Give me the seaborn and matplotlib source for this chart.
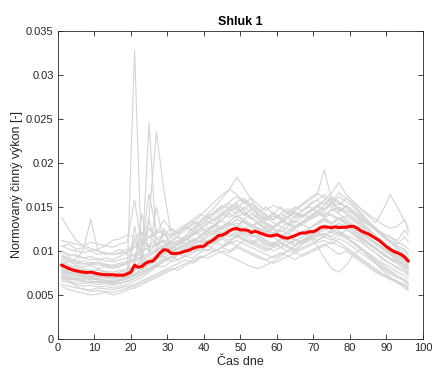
import numpy as np
import pandas as pd
import matplotlib
matplotlib.use("Agg")
import matplotlib.pyplot as plt
import seaborn as sns

# ---- data (values in 1e-3 units) ----
cas = np.arange(1, 97)
cas_g = np.r_[np.arange(1, 96, 2), 96]

prumer = [8.4, 8.2, 8.0, 7.85, 7.75, 7.65, 7.6, 7.55, 7.6, 7.5, 7.4, 7.35, 7.3, 7.3, 7.3, 7.25,
          7.25, 7.25, 7.4, 7.6, 8.4, 8.15, 8.25, 8.6, 8.8, 8.85, 9.3, 9.8, 10.15, 10.1, 9.75, 9.7,
          9.75, 9.85, 10.0, 10.1, 10.3, 10.45, 10.5, 10.55, 10.9, 11.1, 11.4, 11.75, 11.8, 12.0, 12.3, 12.5,
          12.55, 12.4, 12.4, 12.35, 12.1, 12.25, 12.1, 11.95, 11.8, 11.7, 11.75, 11.85, 11.65, 11.5, 11.45, 11.6,
          11.75, 11.95, 12.05, 12.05, 12.2, 12.2, 12.4, 12.7, 12.75, 12.7, 12.65, 12.75, 12.65, 12.7, 12.7, 12.8,
          12.8, 12.6, 12.3, 12.1, 11.95, 11.7, 11.45, 11.2, 10.85, 10.5, 10.2, 9.95, 9.8, 9.6, 9.3, 8.85]

den01 = [13.8, 12.5, 11.2, 10.6, 10.3, 10.0, 9.8, 9.6, 9.7, 9.9, 10.4, 10.8, 11.5, 12.0,
         12.3, 11.8, 12.5, 13.0, 13.6, 14.2, 13.8, 14.5, 15.2, 14.8, 15.6, 16.0, 15.2, 14.6,
         14.0, 13.5, 14.2, 13.8, 13.2, 14.0, 14.5, 15.0, 14.6, 15.3, 14.8, 14.2, 13.6, 13.0,
         12.2, 11.5, 10.8, 10.4, 9.8, 9.5, 9.2]
den02 = [7.0, 6.8, 6.7, 6.5, 6.6, 6.4, 6.5, 6.3, 6.6, 7.5, 32.8, 8.4, 7.8, 8.2,
         8.2, 8.8, 9.0, 9.4, 9.2, 9.8, 10.2, 10.0, 10.5, 11.0, 10.6, 11.2, 11.0, 10.6,
         10.2, 10.8, 10.4, 10.0, 10.6, 11.0, 11.4, 11.8, 12.0, 11.6, 12.2, 11.8, 11.4, 11.0,
         10.4, 9.8, 9.2, 8.6, 8.2, 7.8, 7.4]
den03 = [8.0, 7.6, 7.4, 7.2, 7.0, 7.1, 6.9, 6.8, 7.0, 7.2, 11.5, 9.0, 24.6, 10.5,
         12.0, 10.8, 11.2, 10.6, 11.0, 11.6, 12.0, 12.4, 12.0, 12.8, 13.2, 12.6, 13.0, 12.5,
         12.2, 11.8, 12.4, 12.0, 11.6, 12.2, 12.6, 13.0, 13.4, 13.0, 13.6, 14.0, 13.4, 12.8,
         12.0, 11.4, 10.8, 10.0, 9.6, 9.2, 8.8]
den04 = [9.0, 8.8, 8.6, 8.5, 8.7, 8.4, 8.3, 8.2, 8.4, 8.6, 8.8, 10.5, 14.0, 23.5,
         17.0, 12.0, 11.5, 10.8, 11.2, 11.6, 11.0, 11.8, 12.2, 11.6, 12.4, 12.0, 11.6, 11.8,
         11.2, 10.8, 11.4, 11.0, 10.6, 11.2, 11.6, 12.2, 12.6, 12.0, 12.8, 12.4, 12.0, 11.4,
         10.8, 10.2, 9.6, 9.0, 8.6, 8.2, 7.9]
den05 = [10.5, 10.8, 10.2, 10.4, 10.0, 10.2, 10.6, 10.4, 10.8, 11.0, 15.8, 10.6, 16.5, 12.0,
         13.5, 12.4, 12.0, 12.8, 12.2, 13.0, 13.4, 13.0, 14.0, 14.6, 15.2, 14.0, 14.8, 14.2,
         13.6, 14.4, 13.8, 13.2, 14.0, 14.6, 15.0, 14.4, 15.2, 16.0, 15.4, 15.0, 14.2, 13.6,
         13.0, 12.6, 12.0, 11.6, 11.2, 12.4, 11.8]
den06 = [9.5, 9.2, 9.0, 10.2, 13.6, 10.0, 9.6, 9.8, 10.2, 9.6, 9.4, 10.0, 10.4, 10.8,
         11.0, 10.6, 10.2, 10.8, 11.4, 11.0, 11.6, 12.0, 12.6, 13.2, 12.8, 13.4, 12.6, 12.2,
         12.8, 12.4, 11.8, 12.2, 12.6, 13.0, 12.6, 13.2, 13.8, 14.2, 13.6, 13.0, 12.4, 11.8,
         11.0, 10.4, 9.8, 9.2, 8.8, 8.4, 8.0]
den07 = [6.0, 5.6, 5.4, 5.2, 5.0, 5.1, 5.3, 5.0, 5.2, 5.6, 5.8, 6.2, 6.6, 7.0,
         7.4, 7.8, 8.2, 8.6, 9.0, 9.4, 9.2, 9.6, 10.0, 9.8, 10.4, 10.0, 9.6, 9.2,
         9.0, 9.4, 9.8, 9.4, 9.0, 9.6, 10.0, 10.4, 10.8, 10.2, 9.6, 10.0, 9.4, 8.8,
         8.2, 7.6, 7.2, 6.8, 6.4, 6.0, 5.6]
den08 = [7.2, 6.6, 6.0, 5.6, 5.4, 5.5, 5.4, 5.3, 5.5, 5.8, 6.0, 6.4, 6.8, 7.2,
         7.6, 8.0, 7.8, 8.4, 8.8, 9.2, 9.6, 10.0, 10.4, 10.8, 11.2, 10.8, 10.4, 10.0,
         9.6, 9.2, 9.6, 10.0, 9.8, 10.2, 10.6, 11.0, 11.2, 10.8, 11.4, 11.0, 10.4, 9.8,
         9.2, 8.6, 8.0, 7.4, 7.0, 6.6, 6.2]
den09 = [8.6, 8.2, 7.8, 7.4, 7.2, 7.0, 7.2, 7.0, 7.2, 7.4, 7.8, 8.2, 8.8, 9.4,
         10.0, 10.4, 10.8, 11.4, 12.0, 12.6, 13.2, 13.8, 14.4, 15.0, 15.4, 14.6, 13.8, 13.0,
         12.4, 11.6, 11.0, 10.4, 10.0, 10.8, 11.6, 10.6, 9.2, 8.0, 7.6, 8.4, 9.6, 10.2,
         9.8, 9.2, 8.6, 8.2, 7.6, 7.2, 6.8]
den10 = [7.6, 7.4, 7.2, 7.0, 6.8, 6.9, 6.7, 6.6, 6.8, 7.0, 7.4, 8.0, 8.6, 9.2,
         9.8, 10.4, 11.0, 11.8, 12.6, 13.4, 14.2, 15.0, 16.0, 17.0, 18.4, 17.2, 15.8, 14.6,
         13.8, 13.2, 12.8, 12.4, 12.8, 13.2, 13.6, 14.0, 14.4, 14.0, 13.6, 13.2, 12.6, 12.0,
         11.4, 10.8, 10.2, 9.6, 9.0, 8.6, 8.2]
den11 = [8.2, 8.0, 7.8, 7.6, 7.4, 7.5, 7.3, 7.2, 7.4, 7.6, 8.0, 8.4, 8.8, 9.2,
         9.6, 10.0, 10.4, 10.8, 11.2, 11.6, 12.0, 12.4, 12.8, 13.4, 14.0, 13.6, 13.0, 12.6,
         12.2, 12.8, 13.4, 14.0, 14.6, 15.2, 15.8, 16.4, 19.2, 15.8, 14.6, 15.0, 14.2, 13.4,
         12.6, 11.8, 11.0, 10.4, 9.8, 9.4, 9.0]
den12 = [9.4, 9.0, 8.8, 8.6, 8.4, 8.6, 8.4, 8.2, 8.4, 8.6, 8.8, 9.2, 9.6, 10.0,
         10.4, 10.8, 11.0, 11.4, 11.8, 12.2, 12.6, 13.0, 13.4, 13.0, 13.6, 13.2, 12.8, 12.4,
         12.0, 12.6, 13.2, 13.8, 14.4, 14.0, 14.6, 15.2, 15.8, 16.6, 17.8, 16.4, 15.6, 14.8,
         14.0, 13.2, 14.6, 16.4, 15.0, 13.4, 12.6]
den13 = [7.4, 7.0, 6.8, 6.6, 6.4, 6.5, 6.3, 6.2, 6.4, 6.6, 6.9, 7.3, 7.8, 8.3,
         8.8, 9.2, 9.6, 10.0, 10.4, 10.8, 11.2, 11.6, 12.0, 12.4, 12.8, 12.4, 12.0, 11.6,
         11.2, 10.8, 11.2, 11.6, 11.2, 11.6, 12.0, 12.4, 12.8, 12.4, 12.0, 11.6, 11.0, 10.2,
         9.4, 8.6, 7.8, 7.0, 6.4, 5.8, 5.5]
den14 = [11.2, 11.0, 10.8, 10.6, 11.0, 10.8, 10.6, 11.2, 11.4, 11.8, 11.6, 12.0, 11.6, 12.4,
         12.0, 11.6, 12.2, 12.6, 13.0, 13.4, 14.0, 14.4, 15.0, 15.6, 16.2, 15.4, 16.0, 15.2,
         14.6, 15.2, 14.8, 14.2, 14.8, 15.4, 16.0, 16.6, 16.0, 15.4, 16.2, 15.6, 15.0, 14.2,
         13.4, 12.6, 12.0, 11.6, 11.0, 10.6, 10.2]
den15 = [8.8, 8.4, 8.2, 8.0, 7.8, 7.9, 7.7, 7.6, 7.8, 8.0, 8.2, 8.6, 9.0, 9.6,
         10.2, 9.8, 10.2, 10.6, 10.2, 10.8, 11.2, 11.0, 11.6, 11.2, 11.8, 11.4, 11.0, 11.4,
         10.8, 10.4, 10.8, 11.2, 10.8, 11.2, 11.6, 11.2, 11.8, 12.2, 11.8, 12.4, 12.0, 11.4,
         10.8, 10.2, 9.6, 9.2, 8.8, 8.4, 8.0]
den16 = [6.6, 6.4, 6.2, 6.0, 6.1, 5.9, 6.0, 5.8, 6.0, 6.2, 6.6, 7.0, 7.6, 8.2,
         8.8, 9.4, 9.0, 9.6, 10.2, 10.0, 10.6, 11.0, 10.6, 11.2, 11.6, 11.2, 10.8, 10.4,
         10.0, 10.4, 10.8, 10.4, 10.0, 10.4, 10.8, 11.2, 11.6, 11.2, 11.8, 11.4, 10.8, 10.2,
         9.6, 9.0, 8.4, 7.8, 7.2, 6.8, 6.4]
den17 = [10.0, 9.6, 9.4, 9.2, 9.0, 9.1, 8.9, 8.8, 9.0, 9.2, 9.6, 10.0, 10.4, 10.8,
         11.2, 11.0, 10.6, 11.2, 11.8, 12.4, 13.0, 13.6, 14.2, 13.8, 14.4, 15.0, 14.4, 13.8,
         13.2, 12.8, 13.4, 13.0, 12.6, 13.2, 13.8, 14.4, 14.0, 14.6, 15.0, 14.6, 14.2, 13.6,
         13.0, 12.4, 11.8, 11.2, 10.6, 10.2, 9.6]
den18 = [7.8, 7.5, 7.3, 7.1, 7.0, 7.2, 7.0, 6.9, 7.1, 7.3, 8.5, 14.2, 10.0, 15.0,
         11.0, 10.2, 9.8, 10.4, 10.8, 11.2, 11.8, 12.2, 12.6, 13.2, 12.8, 13.6, 14.2, 13.6,
         13.0, 12.6, 12.2, 12.8, 13.4, 13.0, 13.6, 14.2, 14.8, 15.4, 14.8, 14.4, 13.8, 13.2,
         12.4, 11.6, 10.8, 10.0, 9.4, 9.0, 8.6]
den19 = [9.2, 9.0, 8.8, 8.9, 8.6, 8.8, 8.5, 8.4, 8.6, 8.8, 9.0, 9.4, 9.8, 10.2,
         10.6, 10.2, 10.8, 11.4, 11.0, 11.6, 12.2, 12.8, 12.4, 13.0, 13.6, 13.2, 12.8, 13.4,
         13.0, 12.6, 13.2, 13.8, 14.4, 14.0, 14.6, 15.2, 14.8, 15.6, 15.2, 16.0, 15.4, 14.8,
         14.2, 13.6, 13.0, 12.6, 12.8, 13.6, 12.2]
den20 = [6.2, 6.0, 5.8, 5.7, 5.6, 5.8, 5.7, 5.6, 5.8, 6.0, 6.2, 6.6, 7.0, 7.4,
         7.8, 8.2, 8.6, 9.0, 8.6, 9.2, 9.6, 10.0, 10.4, 10.0, 10.6, 10.2, 9.8, 9.4,
         9.0, 8.6, 9.0, 9.4, 9.8, 9.4, 9.8, 10.2, 10.6, 11.0, 10.6, 10.2, 9.6, 9.0,
         8.4, 7.8, 7.2, 6.8, 6.4, 6.2, 6.0]
den21 = [8.0, 7.8, 7.6, 7.4, 7.2, 7.3, 7.1, 7.0, 7.2, 7.0, 7.4, 7.8, 8.4, 9.0,
         9.6, 10.2, 10.8, 11.4, 11.0, 11.8, 12.4, 13.0, 13.6, 14.2, 13.8, 14.4, 13.8, 13.2,
         12.6, 12.0, 11.6, 12.0, 12.4, 12.0, 12.6, 13.2, 13.6, 13.2, 13.8, 13.4, 12.8, 12.2,
         11.4, 10.8, 10.2, 9.6, 9.0, 8.4, 8.0]
den22 = [7.0, 6.8, 6.9, 6.6, 6.4, 6.6, 6.5, 6.4, 6.6, 6.8, 7.2, 7.6, 8.0, 8.6,
         9.0, 9.4, 9.8, 10.2, 10.6, 10.2, 10.6, 10.2, 9.8, 9.4, 9.0, 8.6, 8.2, 8.0,
         8.4, 8.8, 9.4, 10.0, 10.6, 11.2, 11.8, 12.4, 13.0, 12.6, 13.2, 12.8, 12.2, 11.6,
         11.0, 10.4, 9.8, 9.2, 8.6, 8.0, 7.6]
den23 = [8.4, 8.2, 8.0, 7.8, 7.6, 7.8, 7.6, 7.4, 7.6, 7.8, 8.2, 8.8, 9.4, 10.0,
         10.6, 11.2, 11.8, 12.4, 13.2, 14.0, 14.8, 15.6, 16.4, 17.0, 16.4, 15.6, 14.8, 14.0,
         13.4, 14.0, 13.6, 13.0, 13.6, 14.2, 13.8, 14.4, 13.8, 13.2, 13.8, 13.2, 12.6, 12.0,
         11.4, 10.8, 10.4, 9.8, 9.4, 9.0, 8.6]
den24 = [7.6, 7.2, 7.0, 6.8, 6.9, 6.7, 6.6, 6.5, 6.7, 6.9, 7.2, 7.6, 8.0, 8.4,
         8.8, 9.2, 9.6, 9.4, 9.8, 10.4, 10.8, 11.2, 11.6, 12.0, 11.6, 12.2, 11.8, 11.4,
         11.0, 10.6, 11.0, 10.6, 10.2, 10.8, 11.4, 12.0, 12.4, 12.8, 12.2, 11.6, 11.0, 10.4,
         9.6, 8.8, 8.2, 7.6, 7.0, 6.6, 6.2]
den25 = [7.2, 7.0, 6.8, 6.9, 6.7, 6.8, 6.6, 6.5, 6.8, 7.0, 12.8, 8.6, 13.6, 9.8,
         12.6, 10.4, 11.0, 11.6, 12.2, 11.8, 12.4, 13.0, 12.6, 13.4, 14.0, 13.4, 12.8, 13.2,
         12.6, 12.0, 12.6, 13.2, 12.8, 13.4, 14.0, 14.6, 14.0, 14.8, 14.2, 13.6, 13.0, 12.4,
         11.6, 11.0, 10.4, 9.8, 9.2, 8.8, 8.4]
den26 = [9.8, 9.4, 9.6, 9.2, 9.4, 9.0, 9.2, 9.0, 9.4, 9.8, 11.0, 10.2, 12.6, 11.4,
         11.8, 12.6, 12.0, 12.8, 13.4, 12.8, 13.6, 14.2, 14.8, 15.4, 14.6, 15.8, 15.0, 14.4,
         15.0, 14.2, 13.6, 14.4, 15.0, 14.6, 15.4, 15.8, 15.2, 16.2, 15.6, 15.0, 14.4, 13.8,
         13.0, 12.4, 11.8, 11.2, 10.8, 11.6, 11.0]
den27 = [7.8, 7.4, 7.6, 7.2, 7.0, 7.4, 7.1, 6.9, 7.2, 7.0, 7.8, 9.6, 8.4, 9.0,
         9.4, 8.8, 9.6, 10.2, 9.8, 10.4, 10.0, 10.8, 11.4, 10.8, 12.0, 11.4, 10.8, 11.2,
         10.6, 11.0, 10.4, 10.8, 11.4, 11.0, 11.6, 12.2, 11.6, 12.4, 13.0, 12.6, 11.8, 11.2,
         10.4, 9.8, 9.0, 8.6, 8.0, 7.6, 7.2]
den28 = [8.6, 8.8, 8.4, 8.2, 8.4, 8.0, 8.2, 8.0, 8.2, 8.6, 9.2, 12.2, 9.8, 11.0,
         10.4, 11.0, 11.6, 11.2, 12.0, 12.6, 12.2, 12.8, 13.6, 14.4, 15.0, 14.2, 13.6, 14.2,
         13.6, 14.2, 15.0, 14.4, 13.8, 14.6, 15.2, 15.8, 16.4, 15.6, 16.6, 16.0, 15.2, 14.4,
         13.4, 12.6, 11.8, 11.0, 10.2, 9.6, 9.0]
den29 = [6.8, 6.6, 6.4, 6.3, 6.4, 6.2, 6.3, 6.1, 6.3, 6.5, 6.9, 7.4, 8.0, 8.6,
         9.2, 9.8, 10.4, 10.0, 10.6, 11.2, 10.8, 11.4, 12.0, 11.6, 12.2, 11.8, 11.2, 10.8,
         10.4, 10.0, 10.4, 10.8, 11.2, 10.8, 11.2, 11.6, 12.0, 11.4, 11.0, 10.4, 9.8, 9.2,
         8.6, 8.0, 7.4, 7.0, 6.6, 6.2, 5.8]
den30 = [10.6, 10.2, 10.0, 9.8, 10.0, 9.6, 9.8, 9.6, 9.8, 10.2, 10.6, 11.0, 10.6, 11.4,
         11.0, 11.6, 12.2, 12.8, 12.4, 13.2, 13.8, 13.4, 14.2, 14.8, 14.2, 14.8, 15.4, 14.8,
         14.2, 13.6, 14.2, 14.8, 14.2, 13.8, 14.4, 15.0, 15.6, 15.0, 14.4, 15.2, 14.6, 14.0,
         13.2, 12.4, 11.6, 11.0, 10.4, 10.0, 9.6]

dny = [den01, den02, den03, den04, den05, den06, den07, den08, den09, den10,
       den11, den12, den13, den14, den15, den16, den17, den18, den19, den20,
       den21, den22, den23, den24, den25, den26, den27, den28, den29, den30]

xticks = [0, 10, 20, 30, 40, 50, 60, 70, 80, 90, 100]
yticks = [0, 0.005, 0.01, 0.015, 0.02, 0.025, 0.03, 0.035]
ytick_labels = ['0', '0.005', '0.01', '0.015', '0.02', '0.025', '0.03', '0.035']

# ---- build tables ----
df = pd.DataFrame({
    'cas': np.tile(cas_g, len(dny)),
    'vykon': np.concatenate([np.asarray(d) for d in dny]) * 1e-3,
    'den': np.repeat(np.arange(len(dny)), len(cas_g)),
})
df_mean = pd.DataFrame({'cas': cas, 'vykon': np.asarray(prumer) * 1e-3})

# ---- plot ----
sns.set_style('ticks')
plt.rcParams['font.family'] = ['Liberation Sans', 'DejaVu Sans']

fig = plt.figure(figsize=(4.32, 3.74), dpi=100)
ax = fig.add_axes([0.134, 0.0936, 0.845, 0.8235])

sns.lineplot(data=df, x='cas', y='vykon', units='den', estimator=None,
             color='#d4d4d4', lw=0.8, ax=ax, legend=False)
sns.lineplot(data=df_mean, x='cas', y='vykon', color='#ff0000', lw=2.2, ax=ax, legend=False)

ax.set_xlim(0, 100)
ax.set_ylim(0, 0.035)
ax.set_xticks(xticks)
ax.set_yticks(yticks)
ax.set_yticklabels(ytick_labels)

dark = '#262626'
for s in ax.spines.values():
    s.set_visible(True)
    s.set_color(dark)
    s.set_linewidth(0.6)
ax.tick_params(direction='in', length=3.5, width=0.6, colors=dark, labelsize=8,
               top=True, right=True, labelcolor=dark, pad=3)

ax.set_title('Shluk 1', fontsize=9, fontweight='bold', color='black', pad=4)
ax.set_xlabel('Čas dne', fontsize=9, color=dark, labelpad=2)
ax.set_ylabel('Normovaný činný výkon [-]', fontsize=9, color=dark, labelpad=2)

fig.savefig('out.png', dpi=100)
